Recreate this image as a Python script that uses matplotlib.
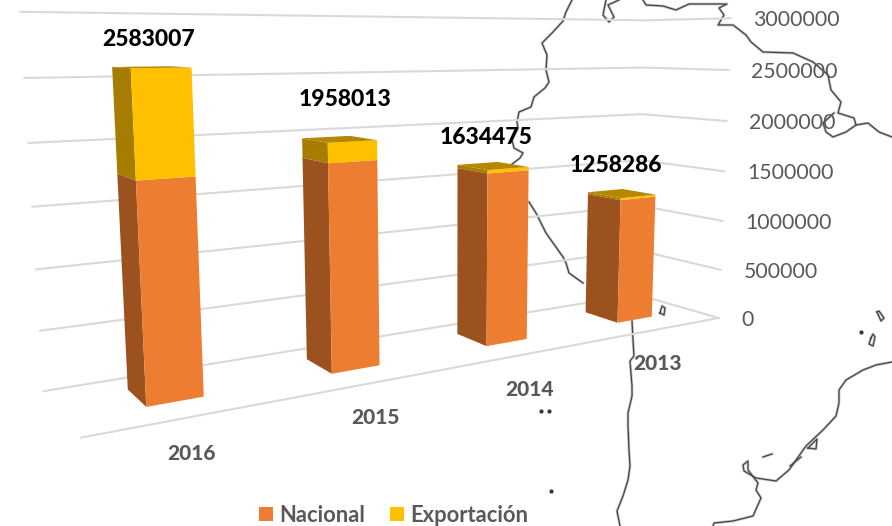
import numpy as np
import matplotlib
matplotlib.use('Agg')
import matplotlib.pyplot as plt

plt.rcParams['font.family'] = ['Lato', 'DejaVu Sans']

# Datos
years = ['2016', '2015', '2014', '2013']
nacional = [1755000, 1790000, 1604000, 1238000]
exportacion = [828007, 168013, 30475, 20286]
ticks = [0, 500000, 1000000, 1500000, 2000000, 2500000, 3000000]

# Calibracion de la camara: esquinas de la caja en pixeles (x, y) por nivel del eje
back_left = [(43, 390), (39, 331), (36, 270), (33, 207), (29, 143), (25, 78), (21, 11)]
back_right = [(641, 296), (641, 250), (641, 205), (641, 160), (641, 114), (641, 68), (641, 20)]
front_right = [(715, 316), (719, 270), (721, 221), (724, 172), (728, 122), (731, 70), (734, 18)]
front_left_floor = (81, 438)


def fit_camera():
    rows = []
    def add(X, Y, Z, u, v):
        rows.append([X, Y, Z, 1, 0, 0, 0, 0, -u * X, -u * Y, -u * Z, -u])
        rows.append([0, 0, 0, 0, X, Y, Z, 1, -v * X, -v * Y, -v * Z, -v])
    for k, t in enumerate(ticks):
        z = t / 1e6
        add(0, 1, z, *back_left[k])
        add(4, 1, z, *back_right[k])
        add(4, 0, z, *front_right[k])
    add(0, 0, 0, *front_left_floor)
    _, _, vt = np.linalg.svd(np.array(rows, dtype=float))
    return vt[-1].reshape(3, 4)


P = fit_camera()


def project(X, Y, value):
    p = P @ np.array([X, Y, value / 1e6, 1.0])
    return p[0] / p[2], p[1] / p[2]


# Costa del mapa de fondo (coordenadas de pixel)
coast_a = [(572, 0), (566, 12), (563, 21), (553, 32), (542, 43), (547, 55), (546, 70), (549, 82),
           (545, 88), (534, 97), (531, 107), (519, 112), (517, 122), (518, 128), (512, 140),
           (514, 148), (523, 153), (520, 158), (511, 165)]
coast_b = [(529, 202), (536, 213), (546, 233), (563, 257), (566, 263), (569, 273), (583, 283)]
coast_c = [(632, 321), (633, 340), (634, 356), (630, 361), (632, 386), (632, 396), (628, 413),
           (628, 426), (629, 450), (630, 466), (628, 480), (623, 496), (617, 511), (620, 526)]
coast_d = [(643, 0), (646, 5), (663, 6), (676, 10), (689, 4), (727, 4), (719, 8), (724, 15),
           (718, 25), (733, 25), (746, 35), (751, 42), (763, 52), (793, 53), (813, 62),
           (828, 75), (831, 90), (841, 102), (838, 113), (854, 118), (856, 125), (846, 132),
           (833, 137), (826, 132), (823, 123), (834, 113)]
coast_e = [(856, 125), (868, 123), (879, 132), (892, 137)]
coast_f = [(892, 362), (876, 365), (863, 370), (846, 380), (839, 390), (839, 403), (836, 416),
           (823, 430), (806, 446), (789, 470), (776, 481), (756, 478), (744, 471), (743, 465),
           (748, 461), (748, 470), (758, 483), (756, 490), (761, 498), (753, 516), (733, 521),
           (714, 523), (713, 526)]
loop_a = [(606, 0), (603, 15), (609, 22), (614, 17), (608, 5), (619, 0)]
loop_b = [(660, 313), (662, 306), (665, 308), (664, 315), (660, 313)]
loop_c = [(877, 312), (879, 311), (884, 318), (881, 321), (877, 312)]
loop_d = [(871, 338), (873, 334), (875, 337), (873, 346), (869, 344), (871, 338)]
isla_a = [(763, 457), (772, 454)]
isla_b = [(790, 466), (801, 457)]
isla_c = [(808, 448), (817, 439), (816, 449), (808, 448)]
marcas = [(541, 411), (549, 411), (551, 491), (861, 332)]

fig = plt.figure(figsize=(8.92, 5.26), dpi=100)
ax = fig.add_axes([0, 0, 1, 1])
ax.set_xlim(0, 892)
ax.set_ylim(526, 0)
ax.axis('off')

for line in [coast_a, coast_b, coast_c, coast_d, coast_e, coast_f, loop_a, loop_b, loop_c, loop_d,
             isla_a, isla_b, isla_c]:
    xs, ys = zip(*line)
    ax.plot(xs, ys, color='#c8c8c8', lw=2.0, zorder=1)
    ax.plot(xs, ys, color='#444444', lw=0.9, zorder=1.1)
ax.scatter(*zip(*marcas), s=4, color='#333333', zorder=1.1)

# Rejilla: pared del fondo y pared lateral
for t in ticks:
    pts = [project(0, 1, t), project(4, 1, t), project(4, 0, t)]
    xs, ys = zip(*pts)
    ax.plot(xs, ys, color='#d9d9d9', lw=1.5, zorder=2)
    x, y = project(4, 0, t)
    ax.text(x + 23, y + 2, str(t), color='#595959', fontsize=15.3, ha='left', va='center', zorder=6)

xs, ys = zip(project(0, 0, 0), project(4, 0, 0))
ax.plot(xs, ys, color='#d9d9d9', lw=1.5, zorder=2)

# Barras apiladas
half_w = 0.145
x_shift = 0.515
y_front, y_back = 0.33, 0.74
colors = {'nacional': ('#ED7D31', '#9C521F'), 'exportacion': ('#FFC000', '#A67D00')}


def draw_block(i, low, high, front, side):
    x0, x1 = i + x_shift - half_w, i + x_shift + half_w
    ax.fill(*zip(project(x0, y_back, low), project(x0, y_front, low),
                 project(x0, y_front, high), project(x0, y_back, high)), color=side, lw=0, zorder=3)
    ax.fill(*zip(project(x0, y_front, low), project(x1, y_front, low),
                 project(x1, y_front, high), project(x0, y_front, high)), color=front, lw=0, zorder=3)


for i in range(len(years)):
    total = nacional[i] + exportacion[i]
    draw_block(i, 0, nacional[i], *colors['nacional'])
    draw_block(i, nacional[i], total, *colors['exportacion'])
    x0, x1 = i + x_shift - half_w, i + x_shift + half_w
    ax.fill(*zip(project(x0, y_front, total), project(x1, y_front, total),
                 project(x1, y_back, total), project(x0, y_back, total)),
            color='#B58800', lw=0, zorder=3)

# Etiquetas
label_xy = [(149, 40), (345, 100), (486, 137), (616, 165)]
year_xy = [(191, 453), (376, 418), (530, 389), (658, 364)]
for i in range(len(years)):
    ax.text(*label_xy[i], str(nacional[i] + exportacion[i]), fontsize=16.5, fontweight='black',
            color='black', ha='center', va='center', zorder=6)
    ax.text(*year_xy[i], years[i], fontsize=15, fontweight='black', color='#595959',
            ha='center', va='center', zorder=6)

# Leyenda
ax.fill([259, 273, 273, 259], [507, 507, 521, 521], color='#ED7D31', lw=0, zorder=6)
ax.text(279, 515, 'Nacional', fontsize=15.8, fontweight='bold', color='#595959', va='center', zorder=6)
ax.fill([390, 404, 404, 390], [507, 507, 521, 521], color='#FFC000', lw=0, zorder=6)
ax.text(410, 515, 'Exportación', fontsize=15.8, fontweight='bold', color='#595959', va='center', zorder=6)

fig.savefig('out.png', dpi=100)
